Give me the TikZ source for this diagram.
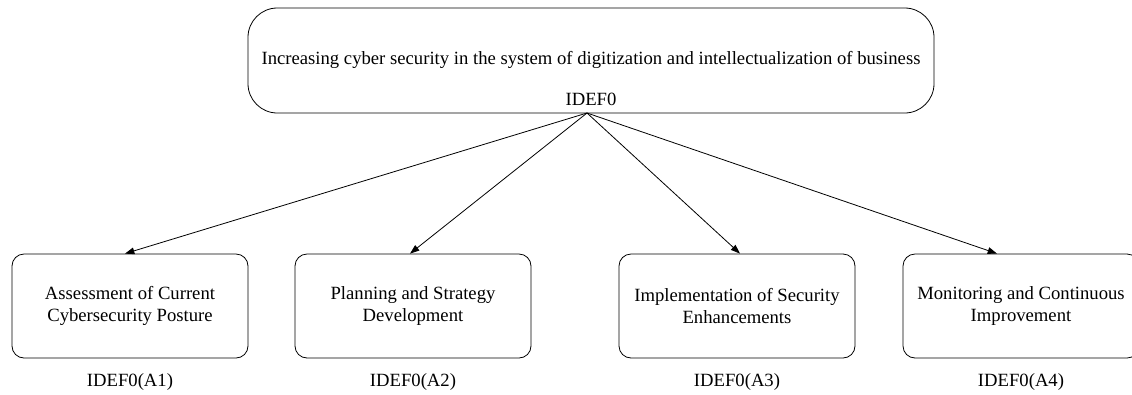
\documentclass[tikz,border=0pt]{standalone}
\usepackage{fontspec}
\setmainfont{Liberation Serif}
\usetikzlibrary{arrows.meta}
\begin{document}
\begin{tikzpicture}[x=0.75pt,y=-0.75pt,
  topbox/.style={draw,rounded corners=22pt,minimum width=514.5pt,minimum height=78.75pt,line width=0.6pt},
  taskbox/.style={draw,rounded corners=9pt,minimum width=177pt,minimum height=78pt,align=center,line width=0.6pt,font=\fontsize{14}{16}\selectfont},
  tag/.style={font=\fontsize{14}{16}\selectfont},
  link/.style={line width=0.6pt,-{Triangle[length=7pt,width=5pt]}}]
\useasboundingbox (0,0) rectangle (1132,394);
\clip (0,0) rectangle (1132,394);
% parent activity
\node[topbox] (top) at (591,60.5) {};
\node[tag] (title) at (591,60) {Increasing cyber security in the system of digitization and intellectualization of business};
\node[tag] (toptag) at (591,99) {IDEF0};
\coordinate (src) at (587,113);
% decomposed activities
\node[taskbox] (a1) at (130,306) {Assessment of Current\\Cybersecurity Posture};
\node[taskbox] (a2) at (413,306) {Planning and Strategy\\Development};
\node[taskbox] (a3) at (737,306) {Implementation of Security\\Enhancements};
\node[taskbox] (a4) at (1021,306) {Monitoring and Continuous\\Improvement};
\node[tag] (t1) at (130,382) {IDEF0(A1)};
\node[tag] (t2) at (413,382) {IDEF0(A2)};
\node[tag] (t3) at (737,382) {IDEF0(A3)};
\node[tag] (t4) at (1021,382) {IDEF0(A4)};
% decomposition links
\draw[link] (src) -- ([xshift=-3.75pt]a1.north);
\draw[link] (src) -- ([xshift=-2.25pt]a2.north);
\draw[link] (src) -- ([xshift=2.25pt]a3.north);
\draw[link] (src) -- ([xshift=-18pt]a4.north);
\end{tikzpicture}
\end{document}
